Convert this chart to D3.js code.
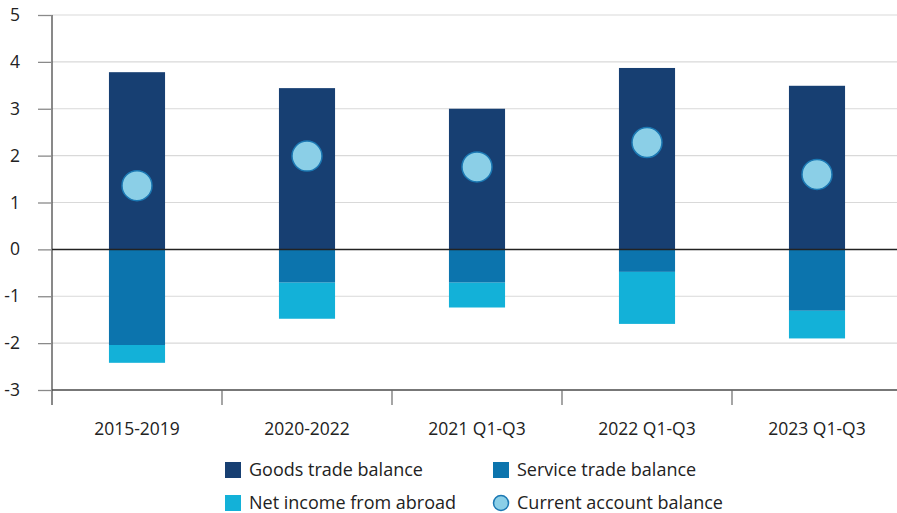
<!DOCTYPE html>
<html>
<head>
<meta charset="utf-8">
<script src="https://cdn.jsdelivr.net/npm/d3@7"></script>
<style>
  html, body { margin: 0; padding: 0; background: #fff; }
  svg { display: block; font-family: "Open Sans", sans-serif; }
</style>
</head>
<body>
<svg id="chart" width="897" height="513"></svg>
<script>
// Balance components, percent of GDP
const categories = ["2015-2019", "2020-2022", "2021 Q1-Q3", "2022 Q1-Q3", "2023 Q1-Q3"];
const goodsTrade = [3.78, 3.44, 3.00, 3.87, 3.49];
const serviceTrade = [-2.04, -0.71, -0.71, -0.48, -1.31];
const netIncome = [-0.38, -0.77, -0.53, -1.11, -0.59];
const currentAccount = [1.36, 1.99, 1.76, 2.28, 1.60];
const yTicks = [-3, -2, -1, 0, 1, 2, 3, 4, 5];

const seriesNames = ["Goods trade balance", "Service trade balance", "Net income from abroad", "Current account balance"];
const colors = {
  goods: "#173f72",
  service: "#0c74ad",
  income: "#13b1d8",
  dotFill: "#8bcfe7",
  dotStroke: "#1b78b3"
};

const svg = d3.select("#chart");
const plotLeft = 52, plotRight = 902, plotTop = 15, plotBottom = 390;

const x = d3.scaleBand().domain(categories).range([plotLeft, plotRight]).paddingInner(0).paddingOuter(0);
const y = d3.scaleLinear().domain([-3, 5]).range([plotBottom, plotTop]);
const barW = x.bandwidth() * 0.33;

// Horizontal gridlines
svg.append("g")
  .selectAll("line")
  .data(yTicks.filter(d => d !== 0 && d !== -3))
  .join("line")
  .attr("x1", plotLeft).attr("x2", 897)
  .attr("y1", d => y(d)).attr("y2", d => y(d))
  .attr("stroke", "#d9d9d9").attr("stroke-width", 1.2);

// Stacked bars: goods above zero, services then income below
const stacks = categories.map((c, i) => ({
  cat: c,
  segs: [
    { y0: 0, y1: goodsTrade[i], color: colors.goods },
    { y0: 0, y1: serviceTrade[i], color: colors.service },
    { y0: serviceTrade[i], y1: serviceTrade[i] + netIncome[i], color: colors.income }
  ]
}));

const barG = svg.append("g");
stacks.forEach(s => {
  barG.selectAll(null)
    .data(s.segs)
    .join("rect")
    .attr("x", x(s.cat) + (x.bandwidth() - barW) / 2)
    .attr("width", barW)
    .attr("y", d => y(Math.max(d.y0, d.y1)))
    .attr("height", d => Math.abs(y(d.y0) - y(d.y1)))
    .attr("fill", d => d.color);
});

// Y axis (plain hyphen for negatives)
const yAxis = svg.append("g")
  .attr("transform", `translate(${plotLeft},0)`)
  .call(d3.axisLeft(y).tickValues(yTicks).tickSize(14).tickPadding(18).tickFormat(d => String(d)));
yAxis.select(".domain").attr("stroke", "#4a4a4a").attr("stroke-width", 1.3)
  .attr("d", `M0,${plotTop}V${plotBottom + 15}`);
yAxis.selectAll(".tick line").attr("stroke", "#8a8a8a").attr("stroke-width", 1.3);
yAxis.selectAll(".tick text").attr("fill", "#222").attr("font-size", 17.5)
  .attr("font-family", "'Open Sans', sans-serif");

// Zero line
svg.append("line")
  .attr("x1", plotLeft).attr("x2", 897)
  .attr("y1", y(0)).attr("y2", y(0))
  .attr("stroke", "#222").attr("stroke-width", 1.5);

// Category axis along the bottom
const xAxis = svg.append("g")
  .attr("transform", `translate(0,${plotBottom})`)
  .call(d3.axisBottom(x).tickSize(0).tickPadding(33));
xAxis.select(".domain").remove();
xAxis.selectAll(".tick text").attr("fill", "#222").attr("font-size", 17.5)
  .attr("font-family", "'Open Sans', sans-serif");
svg.append("line")
  .attr("x1", plotLeft).attr("x2", 897)
  .attr("y1", plotBottom).attr("y2", plotBottom)
  .attr("stroke", "#4a4a4a").attr("stroke-width", 1.3);
svg.append("g")
  .selectAll("line")
  .data(categories.slice(1))
  .join("line")
  .attr("x1", d => x(d)).attr("x2", d => x(d))
  .attr("y1", plotBottom).attr("y2", plotBottom + 15)
  .attr("stroke", "#6a6a6a").attr("stroke-width", 1.2);

// Current account balance markers
svg.append("g")
  .selectAll("circle")
  .data(categories)
  .join("circle")
  .attr("cx", d => x(d) + x.bandwidth() / 2)
  .attr("cy", (d, i) => y(currentAccount[i]))
  .attr("r", 15)
  .attr("fill", colors.dotFill)
  .attr("stroke", colors.dotStroke)
  .attr("stroke-width", 1.5);

// Legend
const legendItems = [
  { name: seriesNames[0], color: colors.goods, shape: "rect", lx: 225, ly: 476 },
  { name: seriesNames[1], color: colors.service, shape: "rect", lx: 493, ly: 476 },
  { name: seriesNames[2], color: colors.income, shape: "rect", lx: 225, ly: 509 },
  { name: seriesNames[3], color: colors.dotFill, shape: "circle", lx: 493, ly: 509 }
];
const lg = svg.append("g").selectAll("g").data(legendItems).join("g")
  .attr("transform", d => `translate(${d.lx},${d.ly})`);
lg.filter(d => d.shape === "rect").append("rect")
  .attr("x", 0).attr("y", -14).attr("width", 16).attr("height", 16)
  .attr("fill", d => d.color);
lg.filter(d => d.shape === "circle").append("circle")
  .attr("cx", 8).attr("cy", -6).attr("r", 7.5)
  .attr("fill", colors.dotFill).attr("stroke", colors.dotStroke).attr("stroke-width", 1.5);
lg.append("text")
  .attr("x", 24).attr("y", 0)
  .attr("font-size", 18).attr("fill", "#222")
  .text(d => d.name);
</script>
</body>
</html>
